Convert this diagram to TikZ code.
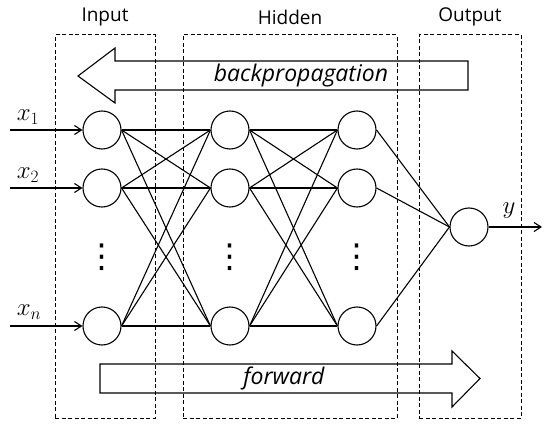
\documentclass[tikz,border=0pt]{standalone}
\usepackage{fontspec}
\setmainfont{Open Sans}
\newfontfamily\symfont{DejaVu Sans}
\usetikzlibrary{arrows.meta}

\begin{document}
\begin{tikzpicture}[
    x=1pt, y=-1pt,
    every node/.style={font=\fontsize{19}{21}\selectfont},
    neuron/.style={circle, draw, line width=1.1pt, minimum size=38pt, inner sep=0pt},
    layer/.style={draw, dash pattern=on 4pt off 2.5pt, line width=1pt, minimum width=100pt, minimum height=383pt, inner sep=0pt},
    link/.style={line width=1.1pt},
    arrow/.style={-{Straight Barb[length=7pt, width=9pt]}, line width=1.1pt},
    bigarrow/.style={draw, line width=1.1pt},
    label/.style={font=\fontsize{24}{26}\selectfont},
    title/.style={font=\fontsize{19}{21}\selectfont},
    flow/.style={font=\fontsize{23}{25}\selectfont\itshape},
    dots/.style={inner sep=0pt, font=\fontsize{33}{35}\selectfont\symfont}
]
\useasboundingbox (0,0) rectangle (550,428);

% ============ LAYER BOXES ============
\node[layer] (inbox) at (105, 226.5) {};
\node[layer, minimum width=214pt] (hidbox) at (290, 226.5) {};
\node[layer, minimum width=102pt] (outbox) at (470, 226.5) {};

\node[title] (intitle) at (105, 17) {Input};
\node[title] (hidtitle) at (290, 17) {Hidden};
\node[title] (outtitle) at (470, 17) {Output};

% ============ BIG ARROWS ============
\draw[bigarrow] (468,61) -- (115,61) -- (115,48) -- (78,76) -- (115,103) -- (115,90) -- (468,90) -- cycle;
\node[flow] (backprop) at (301, 76) {backpropagation};

\draw[bigarrow] (100,364) -- (452,364) -- (452,351) -- (480,378.5) -- (452,407) -- (452,393) -- (100,393) -- cycle;
\node[flow] (forward) at (284, 378) {forward};

% ============ NEURONS ============
% Input layer
\node[neuron] (in1) at (102, 130) {};
\node[neuron] (in2) at (102, 188) {};
\node[neuron] (inn) at (102, 326) {};
\node[dots] (indots) at (102, 257) {⋮};

% Hidden layer 1
\node[neuron] (hida1) at (230, 130) {};
\node[neuron] (hida2) at (230, 188) {};
\node[neuron] (hidan) at (230, 326) {};
\node[dots] (hidadots) at (230, 257) {⋮};

% Hidden layer 2
\node[neuron] (hidb1) at (357, 130) {};
\node[neuron] (hidb2) at (357, 188) {};
\node[neuron] (hidbn) at (357, 326) {};
\node[dots] (hidbdots) at (357, 257) {⋮};

% Output
\node[neuron] (out) at (469, 227) {};

% ============ INPUTS AND OUTPUT ============
\coordinate (src1) at (10, 130);
\coordinate (src2) at (10, 188);
\coordinate (srcn) at (10, 326);
\coordinate (dst) at (542, 227);

\draw[arrow] (src1) -- (in1.west);
\draw[arrow] (src2) -- (in2.west);
\draw[arrow] (srcn) -- (inn.west);
\draw[arrow] (out.east) -- (dst);

\node[label] (x1) at (28, 117) {$x_1$};
\node[label] (x2) at (28, 175) {$x_2$};
\node[label] (xn) at (29, 312) {$x_n$};
\node[label] (y) at (509, 211) {$y$};

% ============ CONNECTIONS ============
% Input -> hidden 1
\draw[link] (in1.east) -- (hida1.west);
\draw[link] (in1.east) -- (hida2.west);
\draw[link] (in1.east) -- (hidan.west);
\draw[link] (in2.east) -- (hida1.west);
\draw[link] (in2.east) -- (hida2.west);
\draw[link] (in2.east) -- (hidan.west);
\draw[link] (inn.east) -- (hida1.west);
\draw[link] (inn.east) -- (hida2.west);
\draw[link] (inn.east) -- (hidan.west);

% Hidden 1 -> hidden 2
\draw[link] (hida1.east) -- (hidb1.west);
\draw[link] (hida1.east) -- (hidb2.west);
\draw[link] (hida1.east) -- (hidbn.west);
\draw[link] (hida2.east) -- (hidb1.west);
\draw[link] (hida2.east) -- (hidb2.west);
\draw[link] (hida2.east) -- (hidbn.west);
\draw[link] (hidan.east) -- (hidb1.west);
\draw[link] (hidan.east) -- (hidb2.west);
\draw[link] (hidan.east) -- (hidbn.west);

% Hidden 2 -> output
\draw[link] (hidb1.east) -- (out.west);
\draw[link] (hidb2.east) -- (out.west);
\draw[link] (hidbn.east) -- (out.west);

\end{tikzpicture}
\end{document}
